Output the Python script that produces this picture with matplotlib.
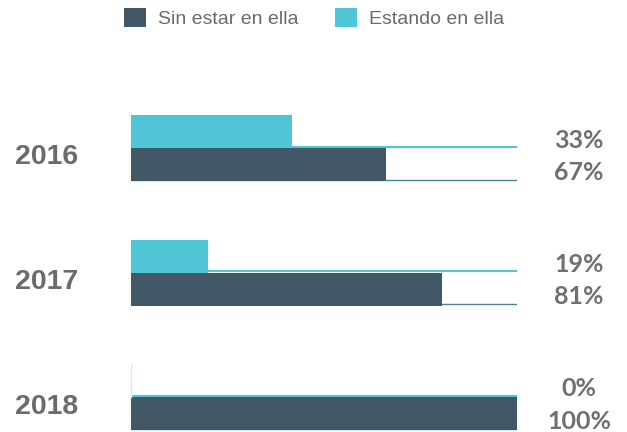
import matplotlib
matplotlib.use("Agg")
import matplotlib.pyplot as plt
from matplotlib.patches import Patch

years = ["2016", "2017", "2018"]
estando = [41.7, 20.0, 0.0]        # bar lengths as drawn (cyan)
sin_estar = [66.0, 80.6, 100.0]    # bar lengths as drawn (dark)
estando_labels = ["33%", "19%", "0%"]
sin_estar_labels = ["67%", "81%", "100%"]
series_names = ["Sin estar en ella", "Estando en ella"]

DARK = "#425867"
CYAN = "#4fc5d6"
TRACK_DARK = "#4e8197"
GRAY = "#6b6b6b"

W, H = 627, 432
fig = plt.figure(figsize=(W / 100, H / 100), dpi=100)
ax_top_px, ax_bot_px = 100, 432
ax = fig.add_axes([131 / W, 0, 386 / W, (ax_bot_px - ax_top_px) / H])
unit = 124.5
top = -(148 - ax_top_px) / unit
ax.set_ylim(top + (ax_bot_px - ax_top_px) / unit, top)
ax.set_xlim(0, 100)
ax.axis("off")

h = 33 / unit
for i, (c, d) in enumerate(zip(estando, sin_estar)):
    # tracks
    ax.plot([0, 100], [i - 1.2 / unit, i - 1.2 / unit], color=CYAN, lw=1.5,
            solid_capstyle="butt", zorder=1)
    ax.plot([0, 100], [i + h - 1.5 / unit, i + h - 1.5 / unit], color=TRACK_DARK,
            lw=1.0, solid_capstyle="butt", zorder=1)
    ax.barh(i - h / 2, c, height=h, color=CYAN, zorder=2, linewidth=0)
    ax.barh(i + h / 2, d, height=h, color=DARK, zorder=2, linewidth=0)
    if c == 0:
        ax.plot([0.1, 0.1], [i - h, i], color="#c9eef4", lw=1.0, zorder=2)

xf = lambda px: (px - 131) / 386
for i, y in enumerate(years):
    ax.text(xf(15), i + 9.5 / unit, y, transform=ax.get_yaxis_transform(),
            ha="left", va="center", fontsize=20.5, fontweight="bold",
            color=GRAY, family="Liberation Sans", clip_on=False)
    ax.text(xf(579), i - 8 / unit, estando_labels[i], transform=ax.get_yaxis_transform(),
            ha="center", va="center", fontsize=18, fontweight="bold", color="#707070",
            family="Lato", clip_on=False)
    ax.text(xf(579), i + 24.5 / unit, sin_estar_labels[i], transform=ax.get_yaxis_transform(),
            ha="center", va="center", fontsize=18, fontweight="bold", color="#707070",
            family="Lato", clip_on=False)

handles = [Patch(facecolor=DARK, edgecolor="none"), Patch(facecolor=CYAN, edgecolor="none")]
leg = fig.legend(handles, series_names, loc="center", ncol=2,
                 bbox_to_anchor=(314 / W, 1 - 18 / H), frameon=False,
                 prop={"family": "Liberation Sans", "size": 14},
                 handlelength=1.13, handleheight=1.13, handletextpad=0.62,
                 columnspacing=1.85, borderpad=0, borderaxespad=0)
for t in leg.get_texts():
    t.set_color(GRAY)

fig.savefig("out.png", dpi=100)
